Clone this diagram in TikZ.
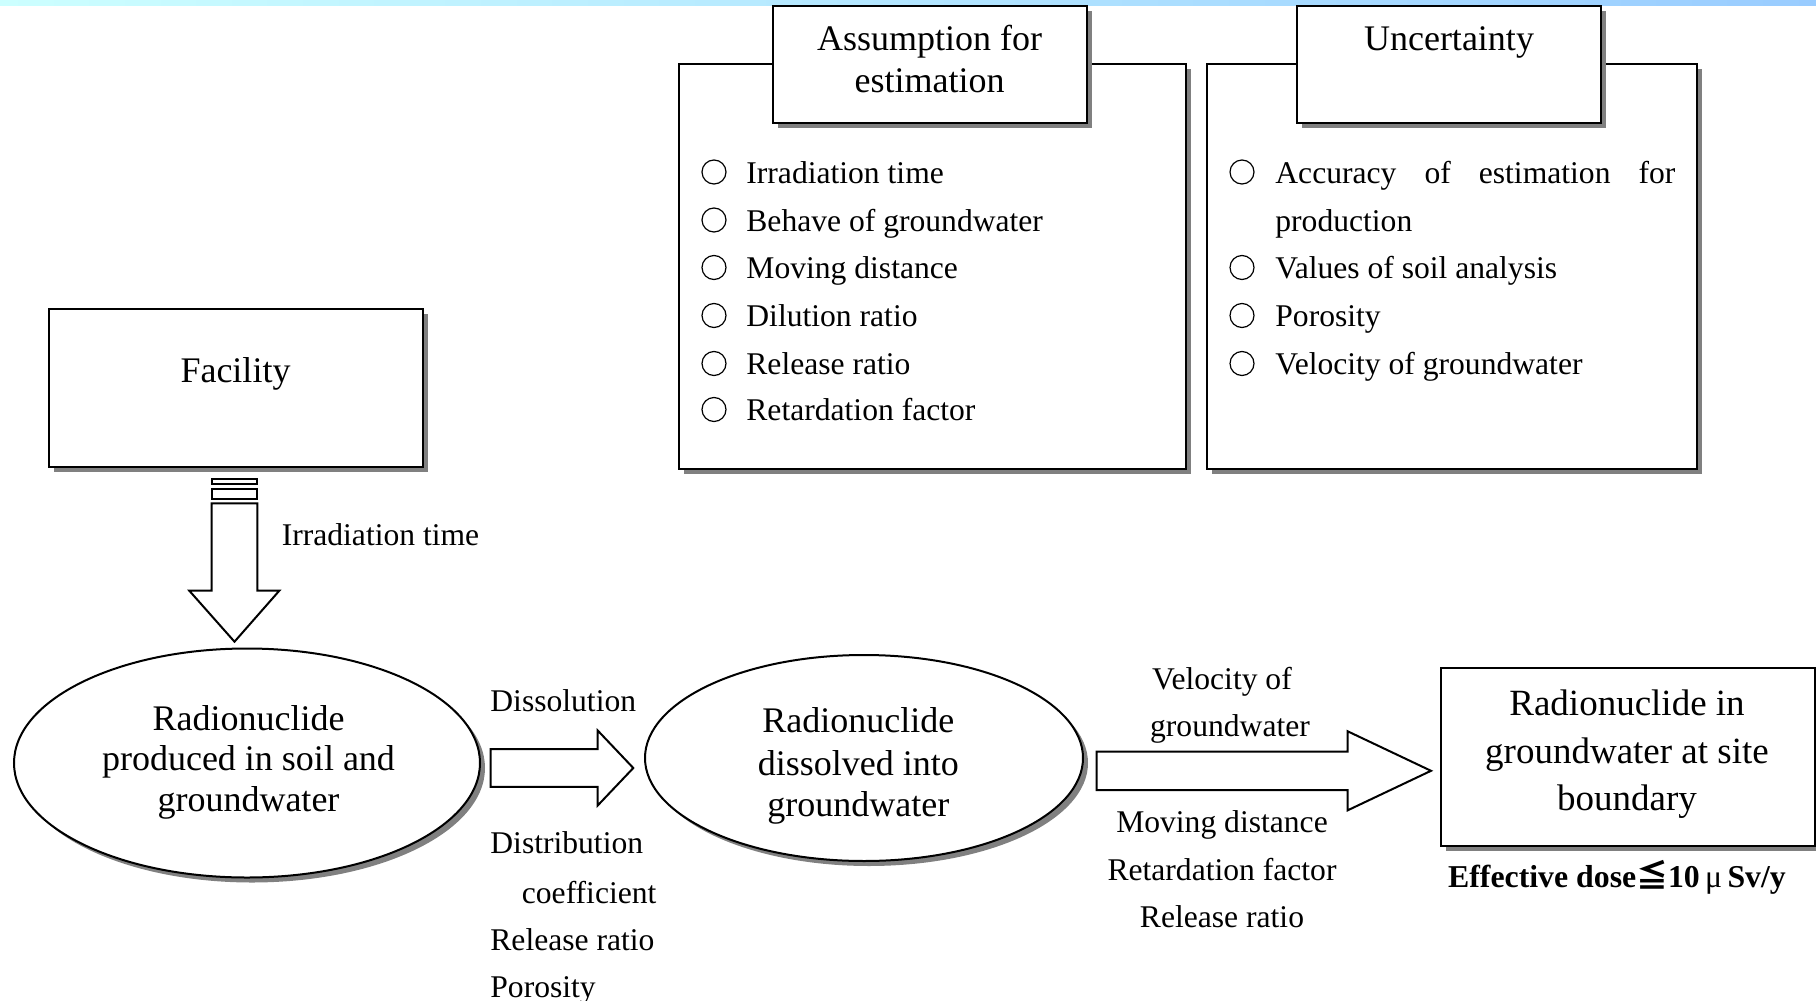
\documentclass[tikz,border=0pt]{standalone}
\usepackage{fontspec}
\setmainfont{Liberation Serif}
\newfontfamily\cjkfont{Noto Sans CJK JP}
\usetikzlibrary{shapes.geometric,shadows,calc}
\newcommand\myRArrow[5]{% tail, tip, shaft half width, head half width, head length
  \draw[blockarrow] ($(#1)+(0,-#3)$) -- ($(#2)+(-#5,-#3)$) -- ($(#2)+(-#5,-#4)$) -- (#2)
    -- ($(#2)+(-#5,#4)$) -- ($(#2)+(-#5,#3)$) -- ($(#1)+(0,#3)$) -- cycle;}
\begin{document}
\begin{tikzpicture}[x=0.5pt,y=-0.5pt]
\tikzset{
  outline/.style={draw=black, line width=1pt, fill=white},
  shadowed/.style={general shadow={fill=black!50, shadow xshift=2.5pt, shadow yshift=-2.5pt}},
  boxnode/.style={outline, shadowed, rectangle, inner sep=0pt},
  ellnode/.style={outline, shadowed, ellipse, inner sep=0pt},
  bigtxt/.style={font=\fontsize{18}{20}\selectfont, inner sep=0pt, anchor=base},
  smalltxt/.style={font=\fontsize{15.8}{18}\selectfont, inner sep=0pt},
  bulletc/.style={circle, draw=black, line width=0.6pt, minimum size=12pt, inner sep=0pt},
  blockarrow/.style={draw=black, line width=1pt, fill=white, line join=miter},
}
\useasboundingbox (0,0) rectangle (1816,1001);
\shade[left color={rgb,255:red,204;green,255;blue,255}, right color={rgb,255:red,153;green,204;blue,255}] (0,0) rectangle (1816,5);

% ---------- upper boxes ----------
\node[boxnode, minimum width=253.75pt, minimum height=202.5pt] (assum) at (932.25,266.5) {};
\node[boxnode, minimum width=157pt, minimum height=58.6pt] (assumT) at (929.5,64.4) {};
\node[bigtxt] (assumT1) at (929.5,50) {Assumption for};
\node[bigtxt] (assumT2) at (929.5,92) {estimation};

\node[boxnode, minimum width=245pt, minimum height=202.5pt] (unc) at (1452,266.5) {};
\node[boxnode, minimum width=152pt, minimum height=58.6pt] (uncT) at (1449,64.4) {};
\node[bigtxt] (uncT1) at (1449,50) {Uncertainty};

% assumption list
\foreach \y/\t [count=\i] in {172/Irradiation time, 220/Behave of groundwater, 267.5/Moving distance, 315.5/Dilution ratio, 363.5/Release ratio, 409.5/Retardation factor}{
  \node[bulletc] (ab\i) at (714,\y) {};
  \node[smalltxt, anchor=base west] (at\i) at (746,\y+11) {\t};
}
% uncertainty list
\node[bulletc] (ub1) at (1242,172) {};
\node[smalltxt, anchor=base west] (ut1) at (1275,183) {\makebox[200pt][s]{Accuracy\hfill of\hfill estimation\hfill for}};
\node[smalltxt, anchor=base west] (ut1b) at (1275,231) {production};
\foreach \y/\t [count=\i from 2] in {267.5/Values of soil analysis, 315.5/Porosity, 363.5/Velocity of groundwater}{
  \node[bulletc] (ub\i) at (1242,\y) {};
  \node[smalltxt, anchor=base west] (ut\i) at (1275,\y+11) {\t};
}

% ---------- facility ----------
\node[boxnode, minimum width=187pt, minimum height=78.85pt] (fac) at (235.5,387.85) {};
\node[bigtxt] (facT) at (235.5,382) {Facility};

% striped down arrow
\draw[blockarrow] (211.7,479) rectangle (257.3,484.3);
\draw[blockarrow] (211.7,488.7) rectangle (257.3,499);
\draw[blockarrow] (211.7,503.3) -- (257.3,503.3) -- (257.3,590.7) -- (279.3,590.7) -- (234.5,641.7)
   -- (189.3,590.7) -- (211.7,590.7) -- cycle;
\node[smalltxt, anchor=base west] (irr) at (281.4,545.5) {Irradiation time};

% ---------- ellipses ----------
\node[ellnode, minimum width=233pt, minimum height=114.5pt] (e1) at (247,763) {};
\node[bigtxt] (e1a) at (248.5,730) {Radionuclide};
\node[bigtxt] (e1b) at (248.5,770.5) {produced in soil and};
\node[bigtxt] (e1c) at (248.5,811.5) {groundwater};

\node[ellnode, minimum width=219pt, minimum height=103pt] (e2) at (864,758) {};
\node[bigtxt] (e2a) at (858.3,732.5) {Radionuclide};
\node[bigtxt] (e2b) at (858.3,775) {dissolved into};
\node[bigtxt] (e2c) at (858.3,816) {groundwater};

% arrow 1
\coordinate (a1tail) at (490.7,768);
\coordinate (a1tip) at (633.3,768);
\myRArrow{a1tail}{a1tip}{18.8}{37.5}{35.6}
\node[smalltxt, anchor=base west] (dis) at (490,711.5) {Dissolution};
\node[smalltxt, anchor=base west] (dist1) at (490,853.5) {Distribution};
\node[smalltxt, anchor=base west] (dist2) at (521.5,903) {coefficient};
\node[smalltxt, anchor=base west] (dist3) at (490,950) {Release ratio};
\node[smalltxt, anchor=base west] (dist4) at (490,997) {Porosity};

% arrow 2
\coordinate (a2tail) at (1096.7,770.8);
\coordinate (a2tip) at (1431,770.8);
\myRArrow{a2tail}{a2tip}{19.2}{39.5}{83.3}
\node[smalltxt, anchor=base] (v1) at (1222,689) {Velocity of};
\node[smalltxt, anchor=base] (v2) at (1230,736.5) {groundwater};
\node[smalltxt, anchor=base] (m1) at (1222,832.5) {Moving distance};
\node[smalltxt, anchor=base] (m2) at (1222,880) {Retardation factor};
\node[smalltxt, anchor=base] (m3) at (1222,927.5) {Release ratio};

% ---------- right box ----------
\node[boxnode, minimum width=187pt, minimum height=89pt] (site) at (1628,757) {};
\node[bigtxt, font=\fontsize{18.5}{20}\selectfont] (site1) at (1627,715) {Radionuclide in};
\node[bigtxt, font=\fontsize{18.5}{20}\selectfont] (site2) at (1627,763) {groundwater at site};
\node[bigtxt, font=\fontsize{18.5}{20}\selectfont] (site3) at (1627,810) {boundary};
\node[smalltxt, anchor=base, font=\fontsize{15.9}{18}\selectfont\bfseries] (dose) at (1617,887)
  {Effective dose{\cjkfont ≦}10\,{\mdseries μ}\,Sv/y};
\end{tikzpicture}
\end{document}
